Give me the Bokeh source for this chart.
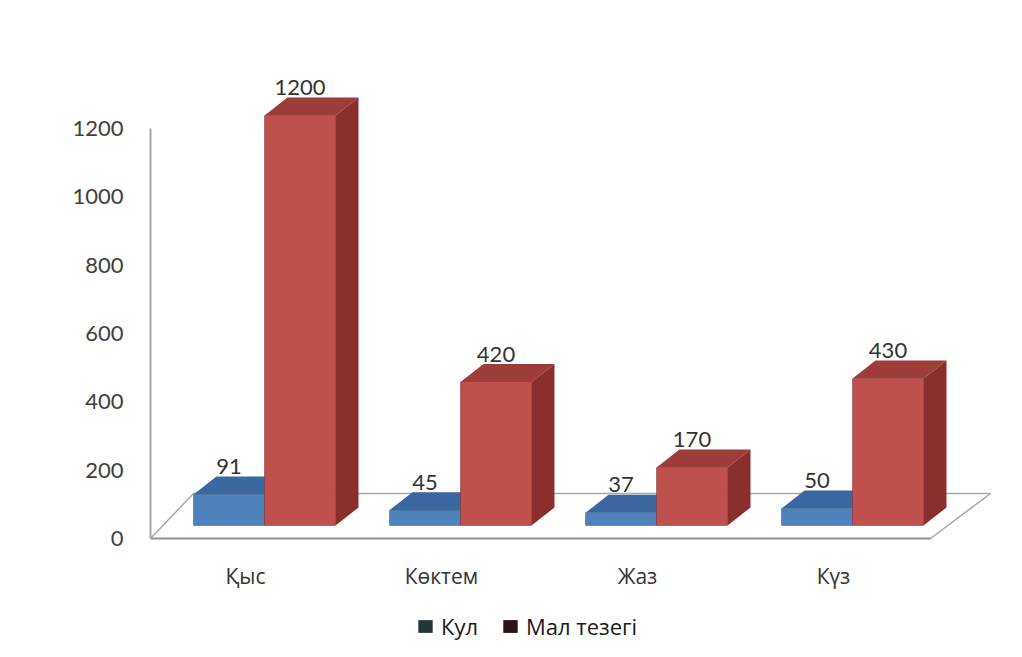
from bokeh.plotting import figure
from bokeh.models import Range1d, FixedTicker, Legend, LegendItem
from bokeh.core.properties import value
from bokeh.embed import file_html
from bokeh.resources import INLINE

# ---- data -----------------------------------------------------------------
seasons = ["Қыс", "Көктем", "Жаз", "Күз"]
kul = [91, 45, 37, 50]
mal_tezegi = [1200, 420, 170, 430]
series_names = ["Кул", "Мал тезегі"]
y_ticks = [0, 200, 400, 600, 800, 1000, 1200]

# ---- styling --------------------------------------------------------------
FRONT = ["#4f81bd", "#c0504d"]
TOP = ["#3b67a0", "#9e3c39"]
SIDE = ["#2f5788", "#8a2f2d"]
LEGEND_SWATCH = ["#213838", "#2b1215"]
TEXT = "#404040"
NUM_FONT = "Lato"
CAT_FONT = "Open Sans"

# ---- screen geometry (pixels) ---------------------------------------------
W, H = 1022, 657
FRAME_L, FRAME_R = 150, 1010
FRAME_T, FRAME_B = 10, 647
ZERO_PX = 538          # screen row of value 0
TOP_PX = 128           # screen row of the highest tick
STEP_PX = 196          # distance between category groups
GROUP_OFF_PX = 43      # first bar's left edge from the axis
BAR_PX = 71            # bar width
BASE_PX = 13           # bars stand this far behind the floor's front edge
DEPTH_X_PX, DEPTH_Y_PX = 23, 18        # bar depth
FLOOR_BACK_PX = 45                      # floor depth (vertical)
FLOOR_L_SHIFT_PX = 43                   # floor depth (horizontal)
FLOOR_FRONT_R_PX = 930
FLOOR_BACK_R_PX = 990
CAT_LABEL_PX = 575
CAT_LABEL_SHIFT_PX = 52
VALUE_LABEL_RISE_PX = 10

k = (ZERO_PX - TOP_PX) / max(y_ticks)   # pixels per value unit


def ux(px):
    """horizontal pixels -> x units"""
    return px / STEP_PX


def uy(px):
    """vertical pixels -> value units"""
    return px / k


p = figure(
    width=W, height=H,
    output_backend="svg", toolbar_location=None,
    x_range=Range1d(0, ux(FRAME_R - FRAME_L)),
    y_range=Range1d(uy(ZERO_PX - FRAME_B), uy(ZERO_PX - FRAME_T)),
    x_axis_location=None,
    min_border_left=FRAME_L, min_border_right=W - FRAME_R,
    min_border_top=FRAME_T, min_border_bottom=H - FRAME_B,
    background_fill_color="white", border_fill_color="white",
    outline_line_color=None,
)
p.grid.visible = False

# value axis
ax = p.yaxis[0]
ax.ticker = FixedTicker(ticks=y_ticks)
ax.bounds = (0, max(y_ticks))
ax.axis_line_color = "#a6a6a6"
ax.axis_line_width = 2
ax.major_tick_line_color = None
ax.minor_tick_line_color = None
ax.major_tick_out = 0
ax.major_tick_in = 0
ax.major_label_standoff = 27
ax.major_label_text_font = NUM_FONT
ax.major_label_text_font_size = "22px"
ax.major_label_text_color = TEXT

# floor of the 3-D box
fx_front_r = ux(FLOOR_FRONT_R_PX - FRAME_L)
fx_back_l = ux(FLOOR_L_SHIFT_PX)
fx_back_r = ux(FLOOR_BACK_R_PX - FRAME_L)
fy_back = uy(FLOOR_BACK_PX)
p.patch([0, fx_front_r, fx_back_r, fx_back_l], [0, 0, fy_back, fy_back],
        fill_color="white", line_color="#a6a6a6", line_width=1.5)
p.line([0, fx_front_r], [0, 0], line_color="#9a9a9a", line_width=2)

# 3-D columns
base = uy(BASE_PX)
ddx, ddy = ux(DEPTH_X_PX), uy(DEPTH_Y_PX)
swatches = []
for s, vals in enumerate([kul, mal_tezegi]):
    lefts = [i + ux(GROUP_OFF_PX + s * BAR_PX) for i in range(len(seasons))]
    rights = [l + ux(BAR_PX) for l in lefts]
    bottoms = [base] * len(vals)
    tops = [base + v for v in vals]
    # dark legend swatch renderer, painted first and hidden under the front faces
    swatches.append(p.quad(left=lefts, right=rights, bottom=bottoms, top=tops,
                           fill_color=LEGEND_SWATCH[s], line_color=None))
    p.quad(left=lefts, right=rights, bottom=bottoms, top=tops,
           fill_color=FRONT[s], line_color=None)
    p.patches(
        [[l, r, r + ddx, l + ddx] for l, r in zip(lefts, rights)],
        [[t, t, t + ddy, t + ddy] for t in tops],
        fill_color=TOP[s], line_color=None)
    p.patches(
        [[r, r + ddx, r + ddx, r] for r in rights],
        [[base, base + ddy, t + ddy, t] for t in tops],
        fill_color=SIDE[s], line_color=None)
    p.text(x=[(l + r) / 2 for l, r in zip(lefts, rights)],
           y=[t + ddy for t in tops], text=[str(v) for v in vals],
           text_align="center", text_baseline="middle", y_offset=-VALUE_LABEL_RISE_PX,
           text_font=value(NUM_FONT), text_font_size="22px", text_color="#333333")

# category labels
p.text(x=[i + ux(GROUP_OFF_PX + CAT_LABEL_SHIFT_PX) for i in range(len(seasons))],
       y=[uy(ZERO_PX - CAT_LABEL_PX)] * len(seasons), text=seasons,
       text_align="center", text_baseline="middle",
       text_font=value(CAT_FONT), text_font_size="21px", text_color="#333333")

# legend
legend = Legend(
    items=[LegendItem(label=n, renderers=[r]) for n, r in zip(series_names, swatches)],
    location=(266, 6), orientation="horizontal",
    glyph_width=18, glyph_height=16, label_standoff=7, spacing=23,
    padding=0, margin=0, border_line_color=None, background_fill_alpha=0,
    label_text_font=CAT_FONT, label_text_font_size="22px", label_text_color="#1a1a1a",
)
p.add_layout(legend)

open("out.html", "w").write(file_html(p, INLINE))
